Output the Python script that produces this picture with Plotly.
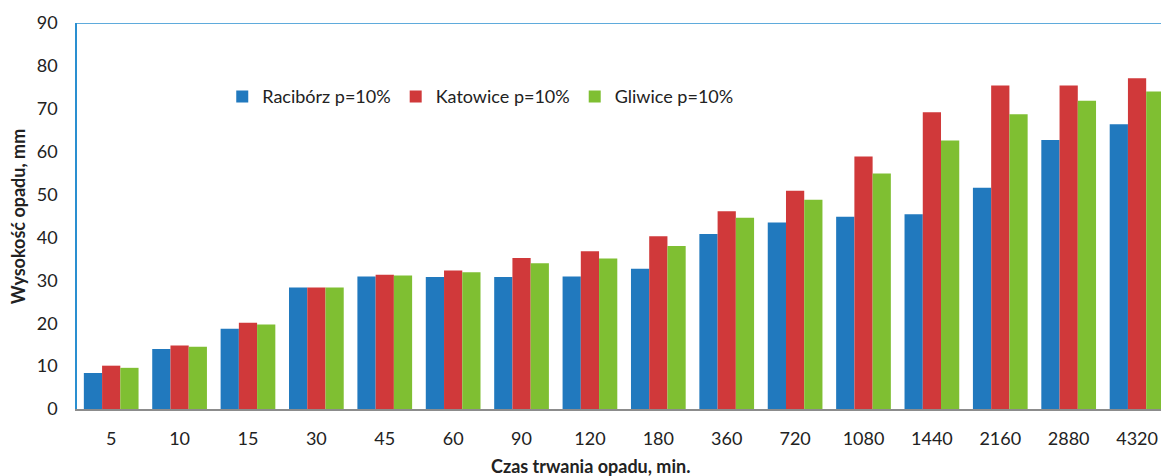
import plotly.graph_objects as go

# Czas trwania opadu [min] i wysokość opadu [mm] dla p=10%
durations = ["5", "10", "15", "30", "45", "60", "90", "120", "180", "360",
             "720", "1080", "1440", "2160", "2880", "4320"]
raciborz = [8.4, 14.0, 18.7, 28.3, 30.9, 30.8, 30.8, 30.9, 32.7, 40.8,
            43.5, 44.8, 45.4, 51.6, 62.7, 66.4]
katowice = [10.1, 14.8, 20.1, 28.3, 31.3, 32.3, 35.2, 36.8, 40.3, 46.1,
            50.9, 58.9, 69.2, 75.4, 75.4, 77.1]
gliwice = [9.6, 14.5, 19.7, 28.3, 31.1, 31.9, 34.0, 35.1, 38.0, 44.6,
           48.8, 54.9, 62.6, 68.7, 71.9, 74.0]

series = [
    ("Racibórz p=10%", raciborz, "#2179be"),
    ("Katowice p=10%", katowice, "#d0393a"),
    ("Gliwice p=10%", gliwice, "#7fbf32"),
]

FONT = "Lato"
TEXT_COLOR = "#222222"

fig = go.Figure()
for name, values, color in series:
    fig.add_trace(go.Bar(
        x=durations, y=values, name=name,
        marker=dict(color=color, line=dict(width=0)),
    ))

fig.update_layout(
    width=1161, height=476,
    margin=dict(l=77, r=0, t=23, b=67),
    paper_bgcolor="white", plot_bgcolor="white",
    barmode="group", bargap=0.2, bargroupgap=0,
    font=dict(family=FONT, size=18, color=TEXT_COLOR),
    showlegend=True,
    legend=dict(
        orientation="h", x=0.134, xanchor="left", y=0.809, yanchor="middle",
        font=dict(family=FONT, size=18, color=TEXT_COLOR),
        bgcolor="rgba(0,0,0,0)", itemwidth=30, traceorder="normal",
    ),
    xaxis=dict(
        type="category", range=[-0.5, 15.35],
        showgrid=False, zeroline=False,
        showline=True, linecolor="#8c8c8c", linewidth=1.5,
        ticks="", ticklabelstandoff=13,
        tickfont=dict(family=FONT, size=18, color=TEXT_COLOR),
    ),
    yaxis=dict(
        range=[0, 90], dtick=10,
        showgrid=False, zeroline=False,
        showline=True, linecolor="#2a8fd0", linewidth=1.5,
        ticks="", ticklabelstandoff=14,
        tickfont=dict(family=FONT, size=18, color=TEXT_COLOR),
    ),
    shapes=[dict(
        type="line", xref="paper", yref="y", x0=0, x1=1, y0=90, y1=90,
        line=dict(color="#2a8fd0", width=1.5),
    )],
    annotations=[
        dict(
            text="<b>Wysokość opadu, mm</b>", textangle=-90,
            xref="paper", yref="paper", x=-0.0544, y=0.497,
            xanchor="center", yanchor="middle", showarrow=False,
            font=dict(family=FONT, size=18, color=TEXT_COLOR),
        ),
        dict(
            text="<b>Czas trwania opadu, min.</b>",
            xref="paper", yref="paper", x=0.474, y=-0.147,
            xanchor="center", yanchor="middle", showarrow=False,
            font=dict(family=FONT, size=18, color=TEXT_COLOR),
        ),
    ],
)

fig.write_html("out.html")
